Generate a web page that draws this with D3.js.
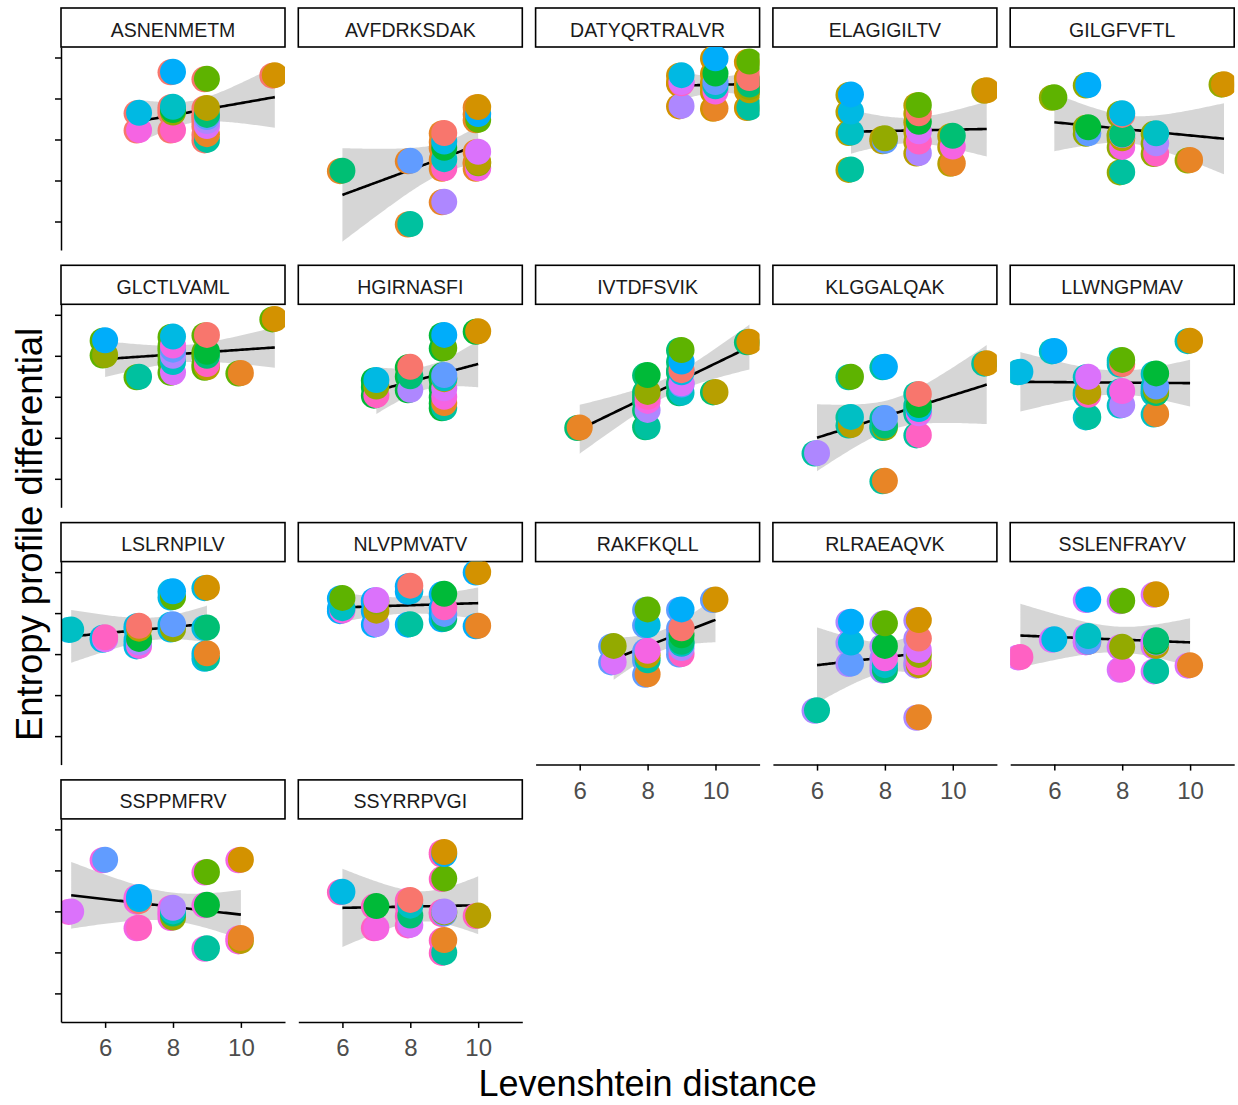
<!DOCTYPE html>
<html>
<head>
<meta charset="utf-8">
<script src="https://cdn.jsdelivr.net/npm/d3@7"></script>
<style>
  body { margin: 0; background: #ffffff; }
  svg { display: block; }
</style>
</head>
<body>
<svg id="chart" width="1238" height="1105"></svg>
<script>
// Peptides (facets and partners) and their hue colours
const peptides = ["ASNENMETM", "AVFDRKSDAK", "DATYQRTRALVR", "ELAGIGILTV", "GILGFVFTL",
  "GLCTLVAML", "HGIRNASFI", "IVTDFSVIK", "KLGGALQAK", "LLWNGPMAV", "LSLRNPILV",
  "NLVPMVATV", "RAKFKQLL", "RLRAEAQVK", "SSLENFRAYV", "SSPPMFRV", "SSYRRPVGI"];
const peptideColors = ["#F8766D", "#E88526", "#D39200", "#B79F00", "#93AA00", "#5EB300",
  "#00BA38", "#00BF74", "#00C19F", "#00BFC4", "#00B9E3", "#00ADFA", "#619CFF",
  "#AE87FF", "#DB72FB", "#F564E3", "#FF61C3"];

// Each facet: [partner peptide, Levenshtein distance, entropy profile differential]
const pts_ASNENMETM = [["AVFDRKSDAK",9,0.13],["DATYQRTRALVR",11,1.57],["ELAGIGILTV",9,0.77],["GILGFVFTL",8,0.66],["GLCTLVAML",9,1.48],["HGIRNASFI",8,0.72],["IVTDFSVIK",9,0.6],["KLGGALQAK",9,-0.01],["LLWNGPMAV",8,0.80],["LSLRNPILV",7,0.65],["NLVPMVATV",8,1.65],["RAKFKQLL",9,0.55],["RLRAEAQVK",9,0.45],["SSLENFRAYV",9,0.33],["SSPPMFRV",7,0.23],["SSYRRPVGI",8,0.23]];
const pts_AVFDRKSDAK = [["ASNENMETM",9,0.16],["DATYQRTRALVR",10,0.79],["ELAGIGILTV",10,-0.55],["GILGFVFTL",10,-0.58],["GLCTLVAML",10,0.48],["HGIRNASFI",9,-0.2],["IVTDFSVIK",6,-0.76],["KLGGALQAK",8,-2.06],["LLWNGPMAV",9,-0.48],["LSLRNPILV",9,-0.05],["NLVPMVATV",10,0.62],["RAKFKQLL",8,-0.52],["RLRAEAQVK",9,-1.52],["SSLENFRAYV",10,-0.3],["SSPPMFRV",10,-0.7],["SSYRRPVGI",9,-0.7]];
const pts_DATYQRTRALVR = [["ASNENMETM",11,1.5],["AVFDRKSDAK",10,0.76],["ELAGIGILTV",11,1.2],["GILGFVFTL",11,1.28],["GLCTLVAML",11,1.9],["HGIRNASFI",10,1.61],["IVTDFSVIK",11,1.34],["KLGGALQAK",11,0.78],["LLWNGPMAV",10,1.3],["LSLRNPILV",9,1.57],["NLVPMVATV",10,1.98],["RAKFKQLL",10,1.4],["RLRAEAQVK",9,0.82],["SSLENFRAYV",9,1.4],["SSPPMFRV",10,1.17],["SSYRRPVGI",9,1.37]];
const pts_ELAGIGILTV = [["ASNENMETM",9,0.64],["AVFDRKSDAK",10,-0.58],["DATYQRTRALVR",11,1.2],["GILGFVFTL",8,0.03],["GLCTLVAML",9,0.84],["HGIRNASFI",9,0.43],["IVTDFSVIK",10,0.09],["KLGGALQAK",7,-0.73],["LLWNGPMAV",7,0.17],["LSLRNPILV",7,0.68],["NLVPMVATV",7,1.1],["RAKFKQLL",8,-0.03],["RLRAEAQVK",9,-0.33],["SSLENFRAYV",9,0.2],["SSPPMFRV",10,-0.17],["SSYRRPVGI",9,-0.05]];
const pts_GILGFVFTL = [["ASNENMETM",8,0.6],["AVFDRKSDAK",10,-0.5],["DATYQRTRALVR",11,1.35],["ELAGIGILTV",8,0.03],["GLCTLVAML",6,1.03],["HGIRNASFI",7,0.3],["IVTDFSVIK",8,0.12],["KLGGALQAK",8,-0.79],["LLWNGPMAV",9,0.15],["LSLRNPILV",8,0.64],["NLVPMVATV",7,1.33],["RAKFKQLL",7,0.15],["RLRAEAQVK",9,-0.09],["SSLENFRAYV",8,0.11],["SSPPMFRV",8,-0.18],["SSYRRPVGI",9,-0.34]];
const pts_GLCTLVAML = [["ASNENMETM",9,1.51],["AVFDRKSDAK",10,0.58],["DATYQRTRALVR",11,1.9],["ELAGIGILTV",9,0.72],["GILGFVFTL",6,1.02],["HGIRNASFI",9,1.1],["IVTDFSVIK",9,1.0],["KLGGALQAK",7,0.49],["LLWNGPMAV",8,0.85],["LSLRNPILV",8,1.47],["NLVPMVATV",6,1.38],["RAKFKQLL",8,1.15],["RLRAEAQVK",8,1.0],["SSLENFRAYV",8,0.6],["SSPPMFRV",8,1.25],["SSYRRPVGI",9,0.8]];
const pts_HGIRNASFI = [["ASNENMETM",8,0.73],["AVFDRKSDAK",9,-0.15],["DATYQRTRALVR",10,1.6],["ELAGIGILTV",9,0.43],["GILGFVFTL",7,0.25],["GLCTLVAML",9,1.19],["IVTDFSVIK",8,0.5],["KLGGALQAK",9,-0.27],["LLWNGPMAV",9,0.45],["LSLRNPILV",7,0.41],["NLVPMVATV",9,1.51],["RAKFKQLL",9,0.53],["RLRAEAQVK",8,0.17],["SSLENFRAYV",9,0.21],["SSPPMFRV",9,0.0],["SSYRRPVGI",7,0.04]];
const pts_IVTDFSVIK = [["ASNENMETM",9,0.65],["AVFDRKSDAK",6,-0.75],["DATYQRTRALVR",11,1.34],["ELAGIGILTV",10,0.12],["GILGFVFTL",8,0.12],["GLCTLVAML",9,1.14],["HGIRNASFI",8,0.53],["KLGGALQAK",8,-0.73],["LLWNGPMAV",9,0.1],["LSLRNPILV",9,0.6],["NLVPMVATV",9,0.86],["RAKFKQLL",9,0.3],["RLRAEAQVK",8,-0.32],["SSLENFRAYV",9,0.33],["SSPPMFRV",8,-0.1],["SSYRRPVGI",8,0.0]];
const pts_KLGGALQAK = [["ASNENMETM",9,0.07],["AVFDRKSDAK",8,-2.05],["DATYQRTRALVR",11,0.82],["ELAGIGILTV",7,-0.69],["GILGFVFTL",8,-0.75],["GLCTLVAML",7,0.49],["HGIRNASFI",9,-0.2],["IVTDFSVIK",8,-0.7],["LLWNGPMAV",7,-0.49],["LSLRNPILV",9,-0.3],["NLVPMVATV",8,0.73],["RAKFKQLL",8,-0.52],["RLRAEAQVK",6,-1.37],["SSLENFRAYV",9,-0.4],["SSPPMFRV",9,-0.35],["SSYRRPVGI",9,-0.93]];
const pts_LLWNGPMAV = [["ASNENMETM",8,0.8],["AVFDRKSDAK",9,-0.42],["DATYQRTRALVR",10,1.37],["ELAGIGILTV",7,0.12],["GILGFVFTL",9,0.15],["GLCTLVAML",8,0.9],["HGIRNASFI",9,0.57],["IVTDFSVIK",9,0.09],["KLGGALQAK",7,-0.49],["LSLRNPILV",5,0.61],["NLVPMVATV",6,1.12],["RAKFKQLL",9,0.25],["RLRAEAQVK",8,-0.2],["SSLENFRAYV",7,0.49],["SSPPMFRV",8,0.14],["SSYRRPVGI",7,0.05]];
const pts_LSLRNPILV = [["ASNENMETM",7,0.69],["AVFDRKSDAK",9,0.02],["DATYQRTRALVR",9,1.62],["ELAGIGILTV",7,0.62],["GILGFVFTL",8,0.61],["GLCTLVAML",8,1.39],["HGIRNASFI",7,0.37],["IVTDFSVIK",9,0.65],["KLGGALQAK",9,-0.1],["LLWNGPMAV",5,0.6],["NLVPMVATV",8,1.53],["RAKFKQLL",8,0.73],["RLRAEAQVK",7,0.28],["SSLENFRAYV",6,0.36],["SSPPMFRV",7,0.2],["SSYRRPVGI",6,0.41]];
const pts_NLVPMVATV = [["ASNENMETM",8,1.67],["AVFDRKSDAK",10,0.69],["DATYQRTRALVR",10,2.0],["ELAGIGILTV",7,1.06],["GILGFVFTL",7,1.28],["GLCTLVAML",6,1.37],["HGIRNASFI",9,1.47],["IVTDFSVIK",9,0.86],["KLGGALQAK",8,0.73],["LLWNGPMAV",6,1.12],["LSLRNPILV",8,1.53],["RAKFKQLL",9,0.98],["RLRAEAQVK",7,0.73],["SSLENFRAYV",7,1.32],["SSPPMFRV",6,1.06],["SSYRRPVGI",9,1.14]];
const pts_RAKFKQLL = [["ASNENMETM",9,0.63],["AVFDRKSDAK",8,-0.49],["DATYQRTRALVR",10,1.33],["ELAGIGILTV",8,-0.03],["GILGFVFTL",7,0.2],["GLCTLVAML",8,1.09],["HGIRNASFI",9,0.46],["IVTDFSVIK",9,0.3],["KLGGALQAK",8,-0.15],["LLWNGPMAV",9,0.25],["LSLRNPILV",8,0.71],["NLVPMVATV",9,1.09],["RLRAEAQVK",9,0.15],["SSLENFRAYV",7,-0.19],["SSPPMFRV",8,0.08],["SSYRRPVGI",9,0.0]];
const pts_RLRAEAQVK = [["ASNENMETM",9,0.38],["AVFDRKSDAK",9,-1.54],["DATYQRTRALVR",9,0.83],["ELAGIGILTV",9,-0.27],["GILGFVFTL",9,-0.02],["GLCTLVAML",8,0.75],["HGIRNASFI",8,0.2],["IVTDFSVIK",8,-0.39],["KLGGALQAK",6,-1.37],["LLWNGPMAV",8,-0.27],["LSLRNPILV",7,0.28],["NLVPMVATV",7,0.79],["RAKFKQLL",7,-0.23],["SSLENFRAYV",9,0.1],["SSPPMFRV",8,-0.1],["SSYRRPVGI",9,-0.2]];
const pts_SSLENFRAYV = [["ASNENMETM",7,0.3],["AVFDRKSDAK",10,-0.27],["DATYQRTRALVR",9,1.46],["ELAGIGILTV",9,0.2],["GILGFVFTL",8,0.18],["GLCTLVAML",8,1.3],["HGIRNASFI",9,0.3],["IVTDFSVIK",9,0.34],["KLGGALQAK",9,-0.41],["LLWNGPMAV",7,0.44],["LSLRNPILV",6,0.36],["NLVPMVATV",7,1.33],["RAKFKQLL",7,0.3],["RLRAEAQVK",9,0.28],["SSPPMFRV",8,-0.37],["SSYRRPVGI",5,-0.07]];
const pts_SSPPMFRV = [["ASNENMETM",7,0.25],["AVFDRKSDAK",10,-0.65],["DATYQRTRALVR",10,1.26],["ELAGIGILTV",10,-0.72],["GILGFVFTL",8,-0.15],["GLCTLVAML",9,0.96],["HGIRNASFI",9,0.16],["IVTDFSVIK",8,-0.05],["KLGGALQAK",9,-0.9],["LLWNGPMAV",8,0.0],["LSLRNPILV",7,0.3],["NLVPMVATV",7,0.35],["RAKFKQLL",6,1.26],["RLRAEAQVK",8,0.09],["SSLENFRAYV",5,0.0],["SSYRRPVGI",7,-0.4]];
const pts_SSYRRPVGI = [["ASNENMETM",8,0.28],["AVFDRKSDAK",9,-0.7],["DATYQRTRALVR",9,1.45],["ELAGIGILTV",10,-0.1],["GILGFVFTL",9,-0.02],["GLCTLVAML",9,0.8],["HGIRNASFI",7,0.13],["IVTDFSVIK",8,-0.1],["KLGGALQAK",9,-1.0],["LLWNGPMAV",8,0.14],["LSLRNPILV",6,0.48],["NLVPMVATV",9,1.4],["RAKFKQLL",9,-0.05],["RLRAEAQVK",9,0.0],["SSLENFRAYV",8,-0.33],["SSPPMFRV",7,-0.4]];

const facetPoints = [pts_ASNENMETM, pts_AVFDRKSDAK, pts_DATYQRTRALVR, pts_ELAGIGILTV,
  pts_GILGFVFTL, pts_GLCTLVAML, pts_HGIRNASFI, pts_IVTDFSVIK, pts_KLGGALQAK,
  pts_LLWNGPMAV, pts_LSLRNPILV, pts_NLVPMVATV, pts_RAKFKQLL, pts_RLRAEAQVK,
  pts_SSLENFRAYV, pts_SSPPMFRV, pts_SSYRRPVGI];

const xTicks = [6, 8, 10];
const yTicks = [-2, -1, 0, 1, 2];
const xDomain = [4.7, 11.3];
const yDomain = [-2.695, 2.256];
const xTitle = "Levenshtein distance";
const yTitle = "Entropy profile differential";

// ---- layout ----
const nCol = 5;
const colLeft0 = 61, colStep = 237.3, panelW = 224;
const rowTop0 = 8, rowStep = 257.3, stripH = 39, panelH = 203;
const pointR = 13;
const font = "'Liberation Sans', Arial, Helvetica, sans-serif";

const colorOf = d3.scaleOrdinal().domain(peptides).range(peptideColors);
const x = d3.scaleLinear().domain(xDomain).range([0, panelW]);
const y = d3.scaleLinear().domain(yDomain).range([panelH, 0]);

const svg = d3.select("#chart");
const defs = svg.append("defs");

// two-sided 95% t quantile (Cornish-Fisher expansion around the normal quantile)
function tQuantile(df) {
  const z = 1.959964;
  const z3 = z ** 3, z5 = z ** 5, z7 = z ** 7;
  return z + (z3 + z) / (4 * df) + (5 * z5 + 16 * z3 + 3 * z) / (96 * df * df)
    + (3 * z7 + 19 * z5 + 17 * z3 - 15 * z) / (384 * df ** 3);
}

// linear model with confidence band, like stat_smooth(method = "lm")
function lmBand(rows) {
  const n = rows.length;
  const xb = d3.mean(rows, d => d.dist), yb = d3.mean(rows, d => d.diff);
  const sxx = d3.sum(rows, d => (d.dist - xb) ** 2);
  const sxy = d3.sum(rows, d => (d.dist - xb) * (d.diff - yb));
  const b = sxy / sxx, a = yb - b * xb;
  const rss = d3.sum(rows, d => (d.diff - a - b * d.dist) ** 2);
  const s = Math.sqrt(rss / (n - 2));
  const t = tQuantile(n - 2);
  const [lo, hi] = d3.extent(rows, d => d.dist);
  return d3.range(80).map(k => {
    const xv = lo + (hi - lo) * k / 79;
    const fit = a + b * xv;
    const se = s * Math.sqrt(1 / n + (xv - xb) ** 2 / sxx);
    return { x: xv, fit, lo: fit - t * se, hi: fit + t * se };
  });
}

peptides.forEach((name, i) => {
  const r = Math.floor(i / nCol), c = i % nCol;
  const left = colLeft0 + c * colStep;
  const stripTop = rowTop0 + r * rowStep;
  const top = stripTop + stripH;

  const rows = facetPoints[i].map(([partner, dist, diff]) => ({ partner, dist, diff }))
    .sort((p, q) => p.diff - q.diff);

  // strip
  svg.append("rect")
    .attr("x", left).attr("y", stripTop).attr("width", panelW).attr("height", stripH)
    .attr("fill", "#ffffff").attr("stroke", "#000000").attr("stroke-width", 1.6);
  svg.append("text")
    .attr("x", left + panelW / 2).attr("y", stripTop + 28.5)
    .attr("text-anchor", "middle")
    .attr("font-family", font).attr("font-size", 19.5).attr("fill", "#1A1A1A")
    .text(name);

  const g = svg.append("g").attr("transform", `translate(${left},${top})`);
  defs.append("clipPath").attr("id", "panel-clip-" + i)
    .append("rect").attr("width", panelW).attr("height", panelH);
  const plot = g.append("g").attr("clip-path", `url(#panel-clip-${i})`);

  // smoother
  const band = lmBand(rows);
  plot.append("path").datum(band)
    .attr("d", d3.area().x(d => x(d.x)).y0(d => y(d.lo)).y1(d => y(d.hi)))
    .attr("fill", "#999999").attr("fill-opacity", 0.4);
  plot.append("path").datum(band)
    .attr("d", d3.line().x(d => x(d.x)).y(d => y(d.fit)))
    .attr("fill", "none").attr("stroke", "#000000").attr("stroke-width", 2.6);

  // facet-coloured underlay, then partner-coloured points
  plot.append("g").selectAll("circle").data(rows).join("circle")
    .attr("cx", d => x(d.dist) - 2.5).attr("cy", d => y(d.diff) + 0.5)
    .attr("r", pointR).attr("fill", colorOf(name));
  plot.append("g").selectAll("circle").data(rows).join("circle")
    .attr("cx", d => x(d.dist)).attr("cy", d => y(d.diff))
    .attr("r", pointR).attr("fill", d => colorOf(d.partner));

  // y axis on the first column
  if (c === 0) {
    const ay = g.append("g")
      .call(d3.axisLeft(y).tickValues(yTicks).tickFormat("").tickSize(6).tickSizeOuter(0));
    ay.selectAll("path, line").attr("stroke", "#000000").attr("stroke-width", 1.5);
  }
  // x axis where no panel sits below
  if (i + nCol >= peptides.length) {
    const ax = g.append("g").attr("transform", `translate(0,${panelH})`)
      .call(d3.axisBottom(x).tickValues(xTicks).tickFormat(d3.format("d"))
        .tickSize(6).tickSizeOuter(0).tickPadding(11));
    ax.selectAll("path, line").attr("stroke", "#000000").attr("stroke-width", 1.5);
    ax.selectAll("text").attr("font-family", font).attr("font-size", 24).attr("fill", "#4D4D4D");
  }
});

// axis titles
const plotLeft = colLeft0, plotRight = colLeft0 + 4 * colStep + panelW;
const plotTop = rowTop0 + stripH, plotBottom = rowTop0 + 3 * rowStep + stripH + panelH;
svg.append("text")
  .attr("x", (plotLeft + plotRight) / 2).attr("y", 1096)
  .attr("text-anchor", "middle").attr("font-family", font).attr("font-size", 36)
  .attr("fill", "#000000").text(xTitle);
svg.append("text")
  .attr("transform", `translate(42,${(plotTop + plotBottom) / 2}) rotate(-90)`)
  .attr("text-anchor", "middle").attr("font-family", font).attr("font-size", 36.5)
  .attr("fill", "#000000").text(yTitle);
</script>
</body>
</html>
